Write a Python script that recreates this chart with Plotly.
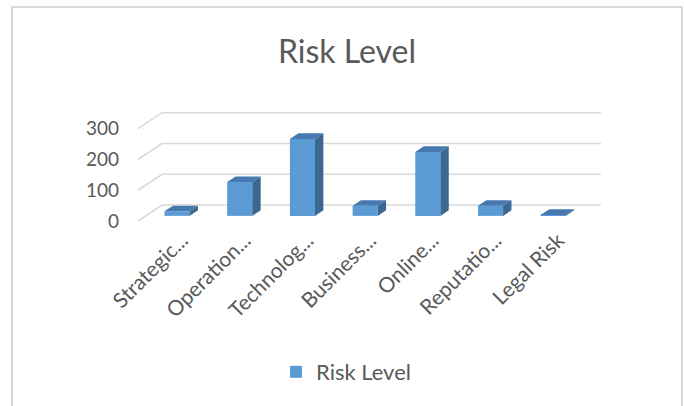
import plotly.graph_objects as go

# ---- data ----
categories = ["Strategic...", "Operation...", "Technolog...", "Business...",
              "Online...", "Reputatio...", "Legal Risk"]
risk_level = [15, 110, 250, 33, 208, 33, 3]
y_ticks = [0, 100, 200, 300]
series_name = "Risk Level"

# ---- geometry (pixels) ----
W, H = 684, 406
L_PX, R_PX, T_PX, B_PX = 130, 610, 100, 223
PX0, CW = 138.0, 62.7          # pixel of category -0.5 on front plane, px per category
Y0PX, PPU = 221.0, 0.3077      # pixel of value 0 on front plane, px per unit
DX = 24.0 / CW                 # depth offset (category units) front->back
DY = 16.0 / PPU                # depth offset (value units) front->back
D0, D1 = 0.32, 0.67            # bar depth range
HW = 0.2                       # half bar width (category units)
LABEL_SHIFT = 0.2              # category-label anchor shift (category units)

FRONT = "#5B9BD5"
SIDE = "#3A6891"
TOP = "#4679B0"
GRID = "#D9D9D9"
TEXT = "#595959"
FONT = "Lato"

xr = [-0.5 - (PX0 - L_PX) / CW, -0.5 + (R_PX - PX0) / CW]
yr = [(Y0PX - B_PX) / PPU, (Y0PX - T_PX) / PPU]

fig = go.Figure()
n = len(categories)

# gridlines (front-left corner -> back wall), drawn below the bars
for g in y_ticks:
    pts = [(-0.5, g), (-0.5 + DX, g + DY), (n - 0.5 + DX, g + DY)]
    path = "M " + " L ".join(f"{x},{y}" for x, y in pts)
    fig.add_shape(type="path", xref="x", yref="y", path=path,
                  line=dict(color=GRID, width=1.6), layer="below")

# bars: front faces
fig.add_trace(go.Bar(
    x=[i + D0 * DX for i in range(n)],
    y=risk_level,
    base=D0 * DY,
    width=2 * HW,
    marker=dict(color=FRONT, line=dict(width=0)),
    name=series_name, showlegend=True, cliponaxis=False))

# side and top faces
for i, v in enumerate(risk_level):
    xs0 = i + HW + D0 * DX
    xs1 = i + HW + D1 * DX
    fig.add_trace(go.Scatter(
        x=[xs0, xs1, xs1, xs0, xs0],
        y=[D0 * DY, D1 * DY, v + D1 * DY, v + D0 * DY, D0 * DY],
        fill="toself", fillcolor=SIDE, mode="lines",
        line=dict(width=0, color=SIDE), hoverinfo="skip", showlegend=False))
    xl0 = i - HW + D0 * DX
    xl1 = i - HW + D1 * DX
    fig.add_trace(go.Scatter(
        x=[xl0, xs0, xs1, xl1, xl0],
        y=[v + D0 * DY, v + D0 * DY, v + D1 * DY, v + D1 * DY, v + D0 * DY],
        fill="toself", fillcolor=TOP, mode="lines",
        line=dict(width=0, color=TOP), hoverinfo="skip", showlegend=False))

pw = R_PX - L_PX
ph = B_PX - T_PX
def px_x(p):
    return (p - L_PX) / pw
def px_y(p):
    return (B_PX - p) / ph

fig.add_shape(type="rect", xref="paper", yref="paper",
              x0=px_x(12), x1=px_x(682), y0=px_y(420), y1=px_y(7),
              line=dict(color=GRID, width=2), fillcolor="rgba(0,0,0,0)", layer="below")

fig.update_layout(
    width=W, height=H,
    margin=dict(l=L_PX, r=W - R_PX, t=T_PX, b=H - B_PX, autoexpand=False),
    paper_bgcolor="white", plot_bgcolor="rgba(0,0,0,0)",
    barmode="overlay",
    font=dict(family=FONT, color=TEXT),
    title=dict(text="Risk Level", font=dict(family=FONT, size=32, color=TEXT),
               x=347 / W, xref="container", xanchor="center",
               y=1 - 52 / H, yref="container", yanchor="middle"),
    xaxis=dict(range=xr, tickvals=[i + LABEL_SHIFT for i in range(n)], ticktext=categories,
               tickangle=-45, tickfont=dict(family=FONT, size=21, color=TEXT),
               showgrid=False, zeroline=False, showline=False, ticks=""),
    yaxis=dict(range=yr, tickvals=y_ticks, ticktext=[str(t) for t in y_ticks],
               tickfont=dict(family=FONT, size=19, color=TEXT),
               showgrid=False, zeroline=False, showline=False, ticks="",
               ticklabelstandoff=10),
    legend=dict(orientation="h", xref="container", yref="container",
                x=346 / W, xanchor="center", y=1 - 372 / H, yanchor="middle",
                font=dict(family=FONT, size=22, color=TEXT),
                bgcolor="rgba(0,0,0,0)"),
    showlegend=True,
)

fig.write_html("out.html")
